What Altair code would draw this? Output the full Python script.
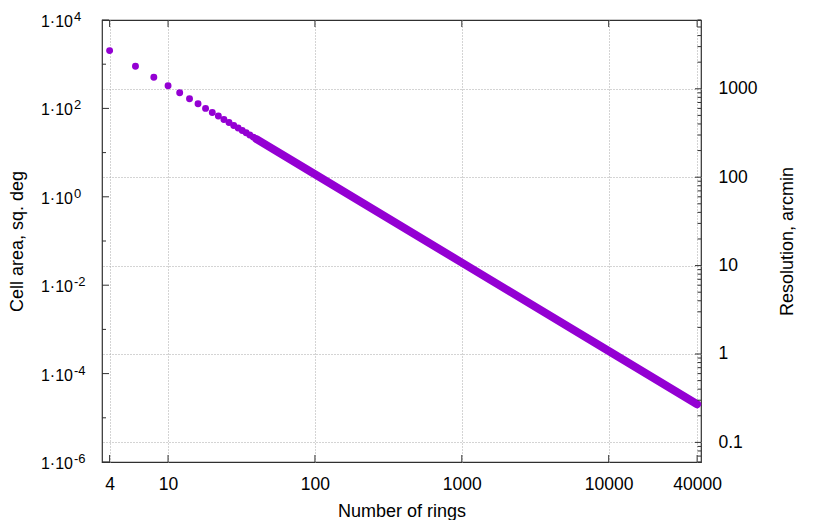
import altair as alt
import pandas as pd

# ---- data ----
rings_sparse = [4, 6, 8, 10, 12, 14, 16, 18, 20, 22, 24, 26, 28, 30, 32, 34, 36, 38, 40]
area_sparse = [2030, 900, 506, 324, 225, 165, 127, 100, 81, 67, 56, 48, 41, 36, 31.6, 28, 25, 22.4, 20.2]
rings_dense = [40, 100, 1000, 10000, 40000]
area_dense = [20.2, 3.24, 0.0324, 0.000324, 0.0000203]

x_ticks = [4, 10, 100, 1000, 10000, 40000]
y_major = [1e4, 1e2, 1, 1e-2, 1e-4, 1e-6]
y_exp = ["4", "2", "0", "-2", "-4", "-6"]
y_minor = [1e3, 1e1, 1e-1, 1e-3, 1e-5]
res_major = [0.1, 1, 10, 100, 1000]
res_minor = [0.06, 0.07, 0.08, 0.09,
             0.2, 0.3, 0.4, 0.5, 0.6, 0.7, 0.8, 0.9,
             2, 3, 4, 5, 6, 7, 8, 9,
             20, 30, 40, 50, 60, 70, 80, 90,
             200, 300, 400, 500, 600, 700, 800, 900,
             2000, 3000, 4000, 5000, 6000]

W, H = 599, 442
PURPLE = "#9400D3"
FONT = "Liberation Sans"
BORDER = "#303030"
GRID = "#a8a8a8"
LFS = 17.5   # tick label size
TFS = 18     # title size

xs = alt.Scale(type="log", domain=[3.55, 42500], nice=False)
ys = alt.Scale(type="log", domain=[1e-6, 1e4], nice=False)
rs = alt.Scale(type="log", domain=[0.06, 6000], nice=False)

df_sparse = pd.DataFrame({"rings": rings_sparse, "area": area_sparse})
df_dense = pd.DataFrame({"rings": rings_dense, "area": area_dense})
df_xt = pd.DataFrame({"rings": x_ticks})
df_ymaj = pd.DataFrame({"area": y_major, "e": y_exp, "b": ["1·10"] * len(y_major)})
df_ymin = pd.DataFrame({"area": y_minor})
df_rmaj = pd.DataFrame({"res": res_major})
df_rmin = pd.DataFrame({"res": res_minor})

x_axis = alt.Axis(values=x_ticks, format="d", grid=True, gridDash=[1, 2], gridColor=GRID,
                  gridWidth=1, ticks=False, tickSize=0, domain=False,
                  labelFont=FONT, labelFontSize=LFS, labelColor="#000",
                  labelBaseline="alphabetic", labelPadding=27,
                  title="Number of rings", titleFont=FONT, titleFontSize=TFS,
                  titleFontWeight="normal", titleColor="#000",
                  titleBaseline="alphabetic", titleY=54, titleX=W / 2, titleAlign="center")
y_axis = alt.Axis(labels=False, ticks=False, tickSize=0, domain=False, grid=False,
                  title="Cell area, sq. deg", titleFont=FONT, titleFontSize=TFS,
                  titleFontWeight="normal", titleColor="#000",
                  titleAngle=270, titleX=-85, titleY=H / 2, titleAlign="center",
                  titleBaseline="middle")
r_axis = alt.Axis(orient="right", values=res_major, format="~g", grid=True, gridDash=[1, 2],
                  gridColor=GRID, gridWidth=1, ticks=False, tickSize=0, domain=False,
                  labelFont=FONT, labelFontSize=LFS, labelColor="#000", labelPadding=17,
                  labelBaseline="middle",
                  title="Resolution, arcmin", titleFont=FONT, titleFontSize=TFS,
                  titleFontWeight="normal", titleColor="#000",
                  titleAngle=270, titleX=86, titleY=H / 2, titleAlign="center",
                  titleBaseline="middle")

X = alt.X("rings:Q", scale=xs, axis=x_axis)
Y = alt.Y("area:Q", scale=ys, axis=y_axis)
R = alt.Y("res:Q", scale=rs, axis=r_axis)

points = alt.Chart(df_sparse).mark_circle(size=48, color=PURPLE, opacity=1).encode(x=X, y=Y)
dense = alt.Chart(df_dense).mark_line(color=PURPLE, strokeWidth=8, strokeCap="round").encode(x=X, y=Y)
xt_bottom = alt.Chart(df_xt).mark_rule(color=BORDER, strokeWidth=1).encode(
    x=X, y=alt.value(H), y2=alt.value(H - 7))
xt_top = alt.Chart(df_xt).mark_rule(color=BORDER, strokeWidth=1).encode(
    x=X, y=alt.value(0), y2=alt.value(7))
yt_major = alt.Chart(df_ymaj).mark_rule(color=BORDER, strokeWidth=1).encode(
    y=Y, x=alt.value(0), x2=alt.value(7))
yt_minor = alt.Chart(df_ymin).mark_rule(color=BORDER, strokeWidth=1).encode(
    y=Y, x=alt.value(0), x2=alt.value(4))
lab_base = alt.Chart(df_ymaj).mark_text(font=FONT, fontSize=16, color="#000", align="right",
                                       baseline="alphabetic", dy=7).encode(
    y=Y, x=alt.value(-29), text="b:N")
lab_exp = alt.Chart(df_ymaj).mark_text(font=FONT, fontSize=13, color="#000", align="left",
                                      baseline="alphabetic", dy=1).encode(
    y=Y, x=alt.value(-28), text="e:N")

left = alt.layer(points, dense, xt_bottom, xt_top, yt_major, yt_minor, lab_base, lab_exp)

rt_major = alt.Chart(df_rmaj).mark_rule(color=BORDER, strokeWidth=1).encode(
    y=R, x=alt.value(W), x2=alt.value(W - 6))
rt_minor = alt.Chart(df_rmin).mark_rule(color=BORDER, strokeWidth=1).encode(
    y=R, x=alt.value(W), x2=alt.value(W - 3.5))
right = alt.layer(rt_major, rt_minor)

chart = alt.layer(left, right).resolve_scale(y="independent").properties(
    width=W, height=H,
    padding={"left": 94, "top": 12, "right": 121, "bottom": 58},
    autosize=alt.AutoSizeParams(type="none"),
    background="white",
).configure_view(stroke=BORDER, strokeWidth=1.2)

chart.save("out.html", embed_options={"renderer": "svg", "actions": False})
